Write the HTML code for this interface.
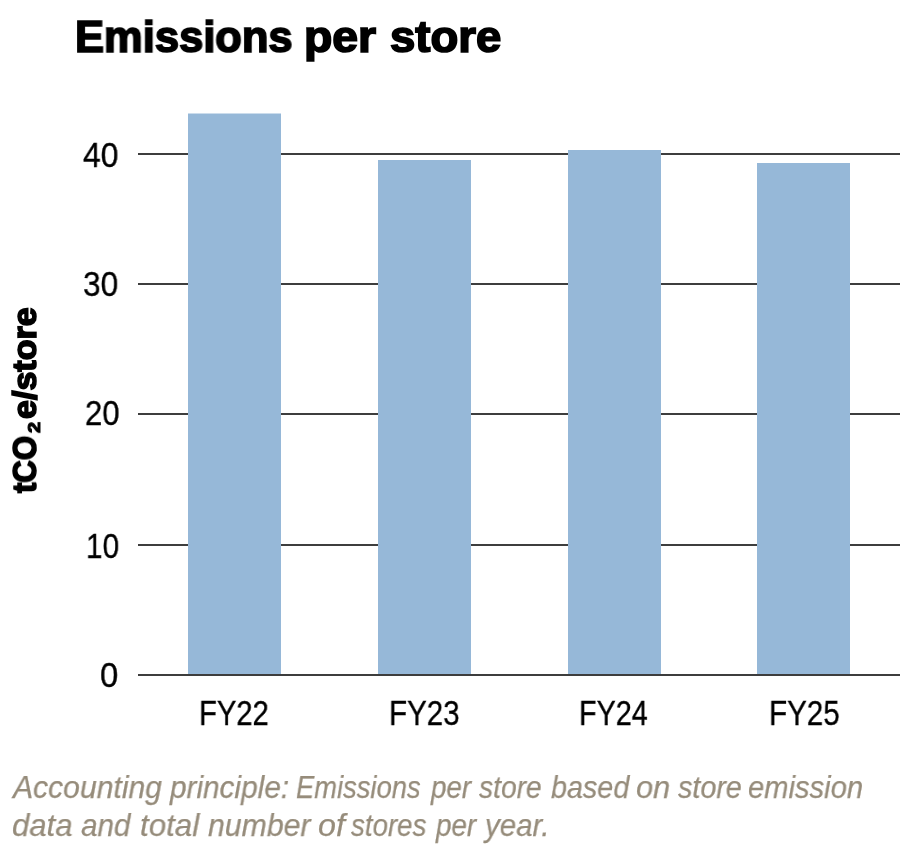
<!DOCTYPE html>
<html lang="en">
<head>
<meta charset="utf-8">
<title>Emissions per store</title>
<style>
  html, body { margin: 0; padding: 0; background: #ffffff; }
  body { width: 912px; height: 854px; position: relative; overflow: hidden;
         font-family: "Liberation Sans", sans-serif; color: #000; }
  .t { position: absolute; white-space: nowrap; line-height: 1; transform-origin: 0 0; will-change: transform; }
  .grid { position: absolute; left: 138px; width: 762px; height: 2px; background: #3d3d3d; }
  .bar  { position: absolute; width: 93px; background: #96b8d8; }
  .title { font-weight: 700; font-size: 44px; -webkit-text-stroke: 1.7px #000; }
  .ylab  { font-size: 35px; -webkit-text-stroke: 0.35px #000; }
  .xlab  { font-size: 35px; -webkit-text-stroke: 0.35px #000; }
  .ytitle { font-weight: 700; font-size: 32.6px; -webkit-text-stroke: 1.6px #000; }
  .ysub { font-weight: 700; font-size: 17px; -webkit-text-stroke: 1.2px #000; }
  .note  { font-style: italic; font-size: 32px; color: #968c7b; -webkit-text-stroke: 0.25px #968c7b; }
</style>
</head>
<body>
<!-- gridlines -->
<div class="grid" style="top:153px"></div>
<div class="grid" style="top:283px"></div>
<div class="grid" style="top:413px"></div>
<div class="grid" style="top:543.5px"></div>

<!-- bars -->
<div class="bar" style="left:188px; top:113px; height:1px; background:#cbdcec"></div>
<div class="bar" style="left:188px; top:114px; height:560px"></div>
<div class="bar" style="left:378px; top:160px;   height:514.5px"></div>
<div class="bar" style="left:567.7px; top:150px; height:524.5px"></div>
<div class="bar" style="left:757px; top:163px;   height:511.5px"></div>

<!-- baseline -->
<div class="grid" style="top:673.7px"></div>

<!-- text labels (each word positioned to match the reference) -->
<!-- y-axis title, rotated -->
<div class="t ytitle" id="yt1" style="left:8.80px; top:492.63px; transform:rotate(-90deg) scaleX(0.9542)">tCO</div>
<div class="t ysub" id="yt2" style="left:26.30px; top:432.59px; transform:rotate(-90deg) scaleX(1.1522)">2</div>
<div class="t ytitle" id="yt3" style="left:8.80px; top:419.00px; transform:rotate(-90deg) scaleX(1.0449)">e/store</div>
<!-- horizontal text -->
<div class="t title" id="tt1" style="left:75.02px; top:14.90px; transform:scaleX(0.9890)">Emissions</div>
<div class="t title" id="tt2" style="left:304.30px; top:14.90px; transform:scaleX(1.0538)">per</div>
<div class="t title" id="tt3" style="left:389.62px; top:14.90px; transform:scaleX(1.0356)">store</div>
<div class="t ylab" id="y40" style="left:83.43px; top:136.85px; transform:scaleX(0.9081)">40</div>
<div class="t ylab" id="y30" style="left:83.27px; top:265.85px; transform:scaleX(0.9028)">30</div>
<div class="t ylab" id="y20" style="left:84.55px; top:394.85px; transform:scaleX(0.8867)">20</div>
<div class="t ylab" id="y10" style="left:86.30px; top:527.85px; transform:scaleX(0.8501)">10</div>
<div class="t ylab" id="y0" style="left:100.09px; top:656.95px; transform:scaleX(0.9343)">0</div>
<div class="t xlab" id="x22" style="left:199.41px; top:695.20px; transform:scaleX(0.8338)">FY22</div>
<div class="t xlab" id="x23" style="left:389.16px; top:695.20px; transform:scaleX(0.8432)">FY23</div>
<div class="t xlab" id="x24" style="left:579.45px; top:695.20px; transform:scaleX(0.8210)">FY24</div>
<div class="t xlab" id="x25" style="left:768.85px; top:695.20px; transform:scaleX(0.8445)">FY25</div>
<div class="t note" id="a0" style="left:13.28px; top:770.50px; transform:scaleX(0.9406)">Accounting</div>
<div class="t note" id="a1" style="left:169.93px; top:770.50px; transform:scaleX(0.9297)">principle:</div>
<div class="t note" id="a2" style="left:296.30px; top:770.50px; transform:scaleX(0.8549)">Emissions</div>
<div class="t note" id="a3" style="left:431.10px; top:770.50px; transform:scaleX(0.8675)">per</div>
<div class="t note" id="a4" style="left:479.06px; top:770.50px; transform:scaleX(0.8814)">store</div>
<div class="t note" id="a5" style="left:551.00px; top:770.50px; transform:scaleX(0.8977)">based</div>
<div class="t note" id="a6" style="left:635.85px; top:770.50px; transform:scaleX(0.9606)">on</div>
<div class="t note" id="a7" style="left:677.56px; top:770.50px; transform:scaleX(0.8972)">store</div>
<div class="t note" id="a8" style="left:748.26px; top:770.50px; transform:scaleX(0.9113)">emission</div>
<div class="t note" id="b0" style="left:11.82px; top:809.30px; transform:scaleX(0.9721)">data</div>
<div class="t note" id="b1" style="left:81.42px; top:809.30px; transform:scaleX(0.9279)">and</div>
<div class="t note" id="b2" style="left:140.02px; top:809.30px; transform:scaleX(0.9771)">total</div>
<div class="t note" id="b3" style="left:208.00px; top:809.30px; transform:scaleX(0.9455)">number</div>
<div class="t note" id="b4" style="left:317.99px; top:809.30px; transform:scaleX(1.0072)">of</div>
<div class="t note" id="b5" style="left:351.46px; top:809.30px; transform:scaleX(0.8644)">stores</div>
<div class="t note" id="b6" style="left:436.03px; top:809.30px; transform:scaleX(0.8694)">per</div>
<div class="t note" id="b7" style="left:484.88px; top:809.30px; transform:scaleX(0.9221)">year.</div>
</body>
</html>
